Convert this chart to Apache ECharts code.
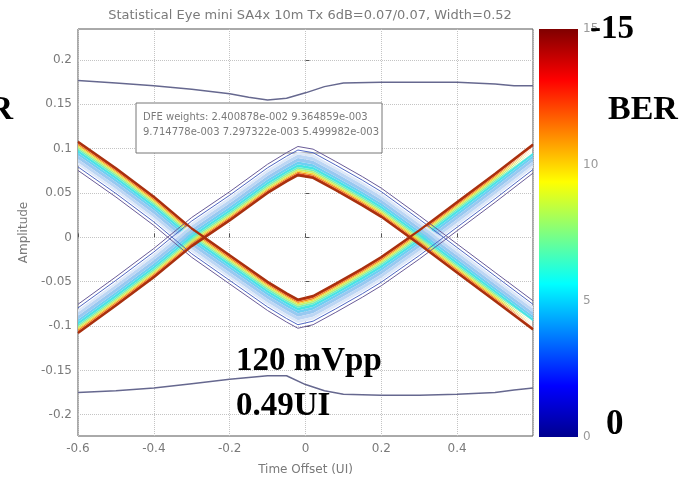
<!DOCTYPE html>
<html>
<head>
<meta charset="utf-8">
<title>Statistical Eye</title>
<script src="https://cdn.jsdelivr.net/npm/echarts@6/dist/echarts.min.js"></script>
<style>
html, body { margin: 0; padding: 0; background: #fff; }
#chart { width: 685px; height: 482px; }
</style>
</head>
<body>
<div id="chart"></div>
<script>
// time offsets (UI) shared by both eye edges
const eyeX = [-0.6, -0.5, -0.4, -0.3, -0.2, -0.1, -0.05, -0.02, 0.02, 0.08, 0.15, 0.2, 0.3, 0.4, 0.5, 0.6];
// highest-probability trace of the lower eye edge (valley) and upper eye edge (hill)
const traceLow = [0.108, 0.078, 0.046, 0.010, -0.020, -0.050, -0.063, -0.070, -0.066, -0.052, -0.035, -0.022, 0.008, 0.040, 0.072, 0.105];
const traceHigh = [-0.108, -0.077, -0.045, -0.010, 0.019, 0.050, 0.063, 0.070, 0.067, 0.053, 0.036, 0.023, -0.008, -0.040, -0.072, -0.104];

// BER band outside each trace: amplitude step per colour level
const bandSteps = [0.0025, 0.0015, 0.0015, 0.002, 0.002, 0.003, 0.003, 0.004, 0.004, 0.003];
const bandColors = ['#d0401a', '#f28a22', '#f6d83a', '#c0f070', '#78efb4', '#48e4e4', '#6ccff2', '#98c8f0', '#bcd6f4', '#dde8f8'];
// thin contour lines beyond the band
const contourSteps = [0.002, 0.004];
const contourColors = ['#5068c4', '#6a5c98'];

// outermost envelope lines
const envX = [-0.6, -0.5, -0.4, -0.3, -0.2, -0.15, -0.1, -0.05, 0, 0.05, 0.1, 0.2, 0.3, 0.4, 0.5, 0.55, 0.6];
const envTop = [0.177, 0.174, 0.171, 0.167, 0.162, 0.158, 0.155, 0.157, 0.163, 0.170, 0.174, 0.175, 0.175, 0.175, 0.173, 0.171, 0.171];
const envBottom = [-0.175, -0.173, -0.170, -0.165, -0.160, -0.158, -0.156, -0.156, -0.166, -0.173, -0.177, -0.178, -0.178, -0.177, -0.175, -0.172, -0.170];

const yTicks = [-0.2, -0.15, -0.1, -0.05, 0, 0.05, 0.1, 0.15, 0.2];

// colour bar (jet)
const berMax = 15;
const jetStops = [0, 0.125, 0.375, 0.625, 0.875, 1];
const jetColors = ['#00008f', '#0000ff', '#00ffff', '#ffff00', '#ff0000', '#800000'];

const titleText = 'Statistical Eye mini SA4x 10m Tx 6dB=0.07/0.07, Width=0.52';
const dfeLines = ['DFE weights: 2.400878e-002 9.364859e-003', '9.714778e-003 7.297322e-003 5.499982e-003'];
const eyeHeight = '120 mVpp';
const eyeWidth = '0.49UI';

const gray = '#7a7a7a';
const small = '"DejaVu Sans", sans-serif';
const big = 'bold 33px "Liberation Serif", serif';

// amplitude goes first so the stack runs on the y values
function stacked(extra, data) {
  return Object.assign({
    type: 'line', stackStrategy: 'all', symbol: 'none',
    dimensions: ['amp', 'time'], encode: { x: 'time', y: 'amp' }, data
  }, extra);
}

function edgeSeries(name, trace, dir) {
  const list = [stacked({ stack: name, z: 5, lineStyle: { color: '#a8300e', width: 2.2 } },
    eyeX.map((x, i) => [trace[i], x]))];
  bandSteps.forEach((s, k) => list.push(stacked({
    stack: name, z: 2, lineStyle: { opacity: 0 }, areaStyle: { color: bandColors[k], opacity: 1 }
  }, eyeX.map(x => [dir * s, x]))));
  contourSteps.forEach((s, k) => list.push(stacked({
    stack: name, z: 3, lineStyle: { color: contourColors[k], width: 1 }
  }, eyeX.map(x => [dir * s, x]))));
  return list;
}

const chart = echarts.init(document.getElementById('chart'));

chart.setOption({
  animation: false,
  title: {
    text: titleText, left: 305, top: 4, textAlign: 'center',
    textStyle: { color: gray, fontSize: 13, fontWeight: 'normal', fontFamily: small }
  },
  grid: [
    { left: 78, right: 152, top: 29, bottom: 46, show: true, borderColor: '#555', borderWidth: 1, backgroundColor: '#fff' },
    { left: 539, right: 107, top: 29, bottom: 45 }
  ],
  xAxis: [{
    type: 'value', min: -0.6, max: 0.6, interval: 0.2,
    name: 'Time Offset (UI)', nameLocation: 'middle', nameGap: 28,
    nameTextStyle: { color: gray, fontSize: 12, fontFamily: small },
    axisLine: { show: false },
    axisTick: { inside: true, length: 4, lineStyle: { color: '#555' } },
    axisLabel: { color: gray, fontSize: 12, fontFamily: small, margin: 7, showMaxLabel: false,
      formatter: v => String(Math.round(v * 10) / 10) },
    splitLine: { lineStyle: { type: 'dotted', color: '#c4c4c4' } }
  }, {
    gridIndex: 1, type: 'category', data: [''], show: false
  }],
  yAxis: [{
    type: 'value', min: -0.224, max: 0.235,
    name: 'Amplitude', nameLocation: 'middle', nameGap: 38, nameRotate: 90,
    nameTextStyle: { color: gray, fontSize: 12, fontFamily: small },
    axisLine: { show: false },
    axisTick: { inside: true, length: 4, lineStyle: { color: '#555' }, customValues: yTicks },
    axisLabel: { color: gray, fontSize: 12, fontFamily: small, margin: 6, customValues: yTicks,
      formatter: v => String(Math.round(v * 100) / 100) },
    splitLine: { lineStyle: { type: 'dotted', color: '#c4c4c4' } }
  }, {
    gridIndex: 1, type: 'value', position: 'right', min: 0, max: berMax, interval: 5,
    axisLine: { show: false },
    axisTick: { inside: true, length: 4, lineStyle: { color: '#333' } },
    axisLabel: { color: '#999', fontSize: 12, fontFamily: small, margin: 5 },
    splitLine: { show: false }
  }],
  series: [
    ...edgeSeries('low', traceLow, -1),
    ...edgeSeries('high', traceHigh, 1),
    { type: 'line', symbol: 'none', z: 4, data: envX.map((x, i) => [x, envTop[i]]),
      lineStyle: { color: '#66688f', width: 1.5 } },
    { type: 'line', symbol: 'none', z: 4, data: envX.map((x, i) => [x, envBottom[i]]),
      lineStyle: { color: '#66688f', width: 1.5 } },
    { type: 'bar', xAxisIndex: 1, yAxisIndex: 1, data: [berMax], barWidth: '100%',
      itemStyle: { color: new echarts.graphic.LinearGradient(0, 1, 0, 0,
        jetStops.map((o, i) => ({ offset: o, color: jetColors[i] }))) } }
  ],
  graphic: [
    { type: 'rect', z: 1, shape: { x: 136, y: 103, width: 246, height: 50 },
      style: { fill: '#fff', stroke: '#777', lineWidth: 1 } },
    { type: 'text', z: 10, x: 143, y: 117, style: { text: dfeLines[0], font: '10px ' + small, fill: gray, textVerticalAlign: 'middle' } },
    { type: 'text', z: 10, x: 143, y: 132, style: { text: dfeLines[1], font: '10px ' + small, fill: gray, textVerticalAlign: 'middle' } },
    { type: 'text', z: 20, x: 236, y: 361, style: { text: eyeHeight, font: big, fill: '#000', textVerticalAlign: 'middle' } },
    { type: 'text', z: 20, x: 236, y: 406, style: { text: eyeWidth, font: big, fill: '#000', textVerticalAlign: 'middle' } },
    { type: 'text', z: 20, x: 590, y: 29, style: { text: '-15', font: big, fill: '#000', textVerticalAlign: 'middle' } },
    { type: 'text', z: 20, x: 608, y: 110, style: { text: 'BER', font: 'bold 34px "Liberation Serif", serif', fill: '#000', textVerticalAlign: 'middle' } },
    { type: 'text', z: 20, x: 13, y: 110, style: { text: 'BER', font: 'bold 34px "Liberation Serif", serif', fill: '#000', textAlign: 'right', textVerticalAlign: 'middle' } },
    { type: 'text', z: 20, x: 606, y: 425, style: { text: '0', font: 'bold 35px "Liberation Serif", serif', fill: '#000', textVerticalAlign: 'middle' } }
  ]
});
</script>
</body>
</html>
